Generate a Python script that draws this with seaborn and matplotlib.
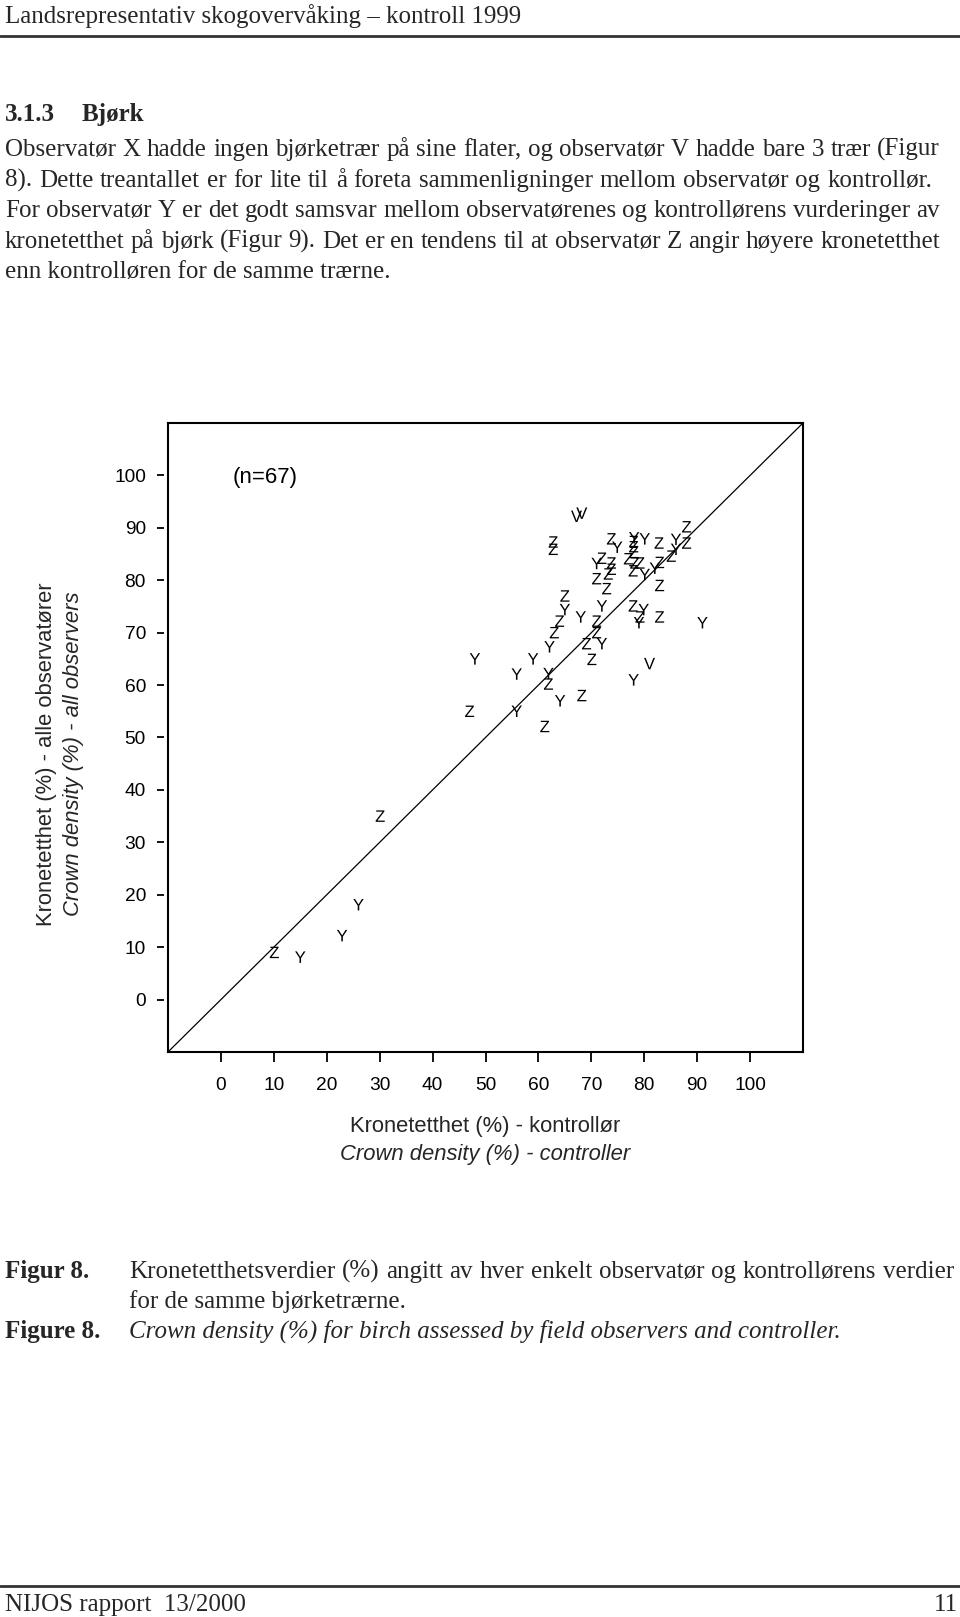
import matplotlib
matplotlib.use("Agg")
import matplotlib.pyplot as plt
import seaborn as sns
import pandas as pd
from matplotlib.lines import Line2D
from matplotlib.transforms import ScaledTranslation

# ---------------- data ----------------
v_ctrl = [67.2, 68.2, 81.0]
v_obs = [92.2, 92.8, 64.1]

y_ctrl = [15.0, 22.9, 26.0, 48.0, 55.9, 59.0, 55.9, 61.9, 64.1, 78.0,
          74.9, 78.1, 80.1, 86.0, 86.0, 71.0, 80.1, 82.0, 65.0, 68.0,
          72.0, 72.0, 62.1, 79.9, 79.0, 91.0]
y_obs = [8.1, 12.2, 18.1, 65.0, 62.1, 65.0, 55.0, 62.2, 57.0, 61.0,
         86.3, 88.1, 87.9, 87.8, 85.9, 83.2, 81.1, 82.3, 74.4, 73.0,
         75.1, 67.9, 67.3, 74.4, 71.9, 71.9]

z_ctrl = [10.1, 30.1, 47.0, 61.9, 61.2, 68.2, 70.1, 62.8, 62.8, 73.8,
          78.0, 78.0, 78.0, 82.8, 88.0, 88.0, 85.1, 72.0, 73.8, 73.8,
          73.2, 71.0, 72.9, 77.0, 78.2, 79.2, 77.9, 82.9, 82.9, 65.0,
          64.0, 63.0, 71.0, 71.0, 69.1, 77.9, 79.2, 82.9]
z_obs = [9.0, 35.0, 55.0, 60.2, 52.1, 58.0, 64.9, 87.3, 85.9, 87.9,
         87.4, 86.4, 85.3, 87.1, 90.2, 87.1, 84.6, 84.2, 83.3, 82.1,
         81.2, 80.3, 78.4, 84.1, 83.3, 83.3, 81.8, 83.4, 79.0, 77.0,
         72.2, 70.0, 72.2, 70.0, 67.9, 75.1, 73.0, 73.0]

tick_values = [0, 10, 20, 30, 40, 50, 60, 70, 80, 90, 100]
tick_labels = ["0", "10", "20", "30", "40", "50", "60", "70", "80", "90", "100"]

# ---------------- texts ----------------
header = "Landsrepresentativ skogovervåking – kontroll 1999"
section_no = "3.1.3"
section_title = "Bjørk"
body_lines = [
    "Observatør X hadde ingen bjørketrær på sine flater, og observatør V hadde bare 3 trær (Figur",
    "8). Dette treantallet er for lite til å foreta sammenligninger mellom observatør og kontrollør.",
    "For observatør Y er det godt samsvar mellom observatørenes og kontrollørens vurderinger av",
    "kronetetthet på bjørk (Figur 9). Det er en tendens til at observatør Z angir høyere kronetetthet",
    "enn kontrolløren for de samme trærne.",
]
xlabel_no = "Kronetetthet (%) - kontrollør"
xlabel_en = "Crown density (%) - controller"
ylabel_no = "Kronetetthet (%) - alle observatører"
ylabel_en = "Crown density (%) - all observers"
n_label = "(n=67)"
cap1_head = "Figur 8."
cap1_lines = ["Kronetetthetsverdier (%) angitt av hver enkelt observatør og kontrollørens verdier",
              "for de samme bjørketrærne."]
cap2_head = "Figure 8."
cap2_line = "Crown density (%) for birch assessed by field observers and controller."
footer_left = "NIJOS rapport  13/2000"
footer_right = "11"

# ---------------- figure ----------------
sns.set_theme(style="white")
plt.rcParams["font.family"] = ["Liberation Sans", "DejaVu Sans"]
plt.rcParams["mathtext.default"] = "regular"

W, H = 960, 1617
fig = plt.figure(figsize=(W / 100, H / 100), dpi=100)
fig.patch.set_facecolor("white")

L, R, T, B = 168, 803, 423, 1052
ax = fig.add_axes([L / W, 1 - B / H, (R - L) / W, (B - T) / H])

df = pd.DataFrame({
    "ctrl": v_ctrl + y_ctrl + z_ctrl,
    "obs": v_obs + y_obs + z_obs,
    "who": ["V"] * len(v_ctrl) + ["Y"] * len(y_ctrl) + ["Z"] * len(z_ctrl),
})
sns.scatterplot(data=df, x="ctrl", y="obs", style="who",
                markers={"V": "$V$", "Y": "$Y$", "Z": "$Z$"},
                color="black", s=68, linewidth=0, edgecolor="none",
                legend=False, ax=ax)
ax.axline((0, 0), slope=1, color="black", lw=0.9)

ax.set_xlim(-10, 110)
ax.set_ylim(-10, 110)
ax.set_xticks(tick_values)
ax.set_xticklabels(tick_labels)
ax.set_yticks(tick_values)
ax.set_yticklabels(tick_labels)
ax.set_xlabel("")
ax.set_ylabel("")
TL = 13.8
ax.tick_params(axis="x", bottom=True, direction="out", length=7.2, width=1.3,
               color="black", labelcolor="black", labelsize=TL, pad=10.5)
ax.tick_params(axis="y", left=True, direction="out", length=5.4, width=1.3,
               color="black", labelcolor="black", labelsize=TL, pad=10.5)
for sp in ax.spines.values():
    sp.set_visible(True)
    sp.set_color("black")
    sp.set_linewidth(1.5)
ax.set_facecolor("white")
off = ScaledTranslation(-4 / 100, 0, fig.dpi_scale_trans)
for tk in ax.yaxis.get_major_ticks():
    tk.tick1line.set_transform(tk.tick1line.get_transform() + off)

ax.text(2.3, 99.6, n_label, ha="left", va="center", fontsize=16, color="black")

# axis titles
AL = 15.8
fig.text(485 / W, 1 - 1126 / H, xlabel_no, ha="center", va="center", fontsize=AL)
fig.text(485 / W, 1 - 1154 / H, xlabel_en, ha="center", va="center", fontsize=AL,
         style="italic")
fig.text(47 / W, 1 - 754 / H, ylabel_no, ha="center", va="center", fontsize=AL,
         rotation=90)
fig.text(74 / W, 1 - 754 / H, ylabel_en, ha="center", va="center", fontsize=AL,
         rotation=90, style="italic")

# ---------------- page text ----------------
serif = ["Liberation Serif", "DejaVu Serif"]
FS = 18
renderer = fig.canvas.get_renderer()


def put(text, x, y, x1=None, fs=FS, **kw):
    kw.setdefault("family", serif)
    yb = 1 - (y + 9) / H  # baseline from visual centre
    if x1 is None:
        return fig.text(x / W, yb, text, ha="left", va="baseline", fontsize=fs, **kw)
    words = text.split(" ")
    arts = [fig.text(0, yb, w, ha="left", va="baseline", fontsize=fs, **kw) for w in words]
    widths = [a.get_window_extent(renderer).width for a in arts]
    gap = (x1 - x - sum(widths)) / (len(words) - 1)
    if gap < 0.2 * fs:
        for a in arts:
            a.remove()
        return put(text, x, y, x1, fs=fs * 0.97, **kw)
    xx = x
    for a, w in zip(arts, widths):
        a.set_x(xx / W)
        xx += w + gap


put(header, 5, 14)
fig.add_artist(Line2D([0, 1], [1 - 36 / H, 1 - 36 / H], transform=fig.transFigure,
                      color="#333333", lw=2))
put(section_no, 5, 112, weight="bold")
put(section_title, 82, 112, weight="bold")
body_y = [147, 178, 208, 239, 269]
body_right = [940, 932, 940, 940, None]
for line, yy, xr in zip(body_lines, body_y, body_right):
    put(line, 5, yy, xr)

put(cap1_head, 5, 1269, weight="bold")
put(cap1_lines[0], 129, 1269, 954)
put(cap1_lines[1], 129, 1299)
put(cap2_head, 5, 1329, weight="bold")
put(cap2_line, 129, 1329, style="italic")

fig.add_artist(Line2D([0, 1], [1 - 1586 / H, 1 - 1586 / H], transform=fig.transFigure,
                      color="#333333", lw=2))
put(footer_left, 5, 1602)
put(footer_right, 934, 1602)

fig.savefig("out.png", dpi=100, facecolor="white")
